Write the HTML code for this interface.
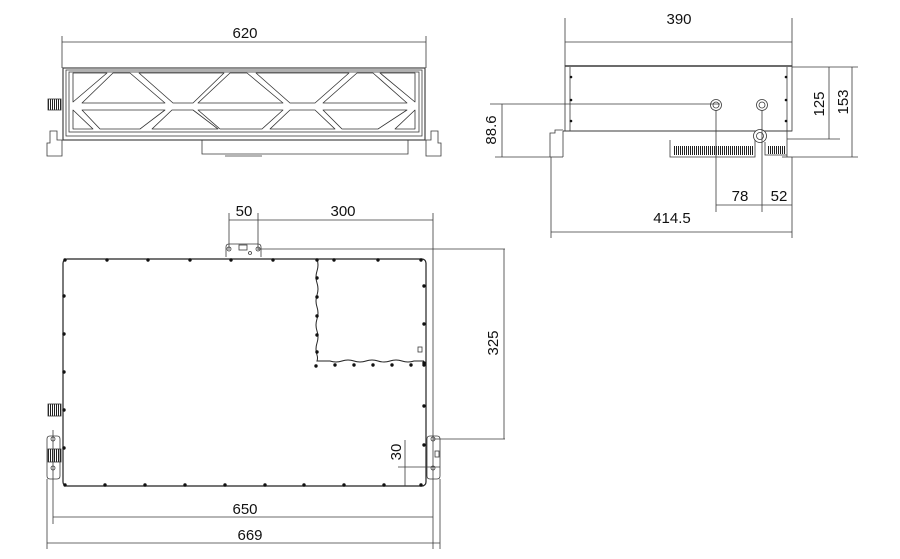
<!DOCTYPE html>
<html><head><meta charset="utf-8"><style>
html,body{margin:0;padding:0;background:#fff;width:900px;height:559px;overflow:hidden}
svg{display:block}
text{font-family:"Liberation Sans",sans-serif;font-size:15px;fill:#111}
</style></head><body>
<svg width="900" height="559" viewBox="0 0 900 559" xmlns="http://www.w3.org/2000/svg">
<defs>
<pattern id="st" width="2" height="4" patternUnits="userSpaceOnUse"><rect width="1" height="4" fill="#222"/></pattern>
</defs>
<g fill="none" stroke="#3a3a3a" stroke-width="0.8">
<!-- ===== TOP LEFT VIEW ===== -->
<line x1="62" y1="36" x2="62" y2="68"/><line x1="426" y1="36" x2="426" y2="68"/>
<line x1="62" y1="42" x2="426" y2="42"/>
<rect x="63" y="68" width="362" height="72" stroke="#333" stroke-width="1.1"/>
<rect x="66" y="70" width="356" height="66"/>
<rect x="69" y="72" width="350" height="60"/>
<line x1="63" y1="140" x2="425" y2="140"/>
<path d="M202 140 V154 H408 V140"/>
<line x1="225" y1="156" x2="262" y2="156"/>
<g stroke-linejoin="round" stroke="#333">
<polygon points="73,73 107,73 73,102"/>
<polygon points="82,103 165,103 130,73 113,73"/>
<polygon points="139,73 224,73 193,103 173,103"/>
<polygon points="198,103 283,103 247,73 230,73"/>
<polygon points="256,73 349,73 315,103 290,103"/>
<polygon points="323,103 407,103 373,73 357,73"/>
<polygon points="380,73 415,73 415,102"/>
<polygon points="73,110 73,129 93,129"/>
<polygon points="82,110 165,110 140,129 100,129"/>
<polygon points="172,110 193,110 218,129 152,129"/>
<polygon points="198,110 283,110 262,129 220,129"/>
<polygon points="290,110 315,110 335,129 270,129"/>
<polygon points="323,110 407,110 378,129 342,129"/>
<polygon points="415,110 415,129 395,129"/>
</g>
<rect x="48" y="99" width="13" height="11" fill="url(#st)" stroke="#333"/>
<path d="M47 156 V143 H50 V131 H57 V140 H62 V156 Z"/>
<path d="M441 156 V143 H438 V131 H431 V140 H426 V156 Z"/>
<!-- ===== TOP RIGHT VIEW ===== -->
<line x1="565" y1="18" x2="565" y2="66"/><line x1="792" y1="18" x2="792" y2="66"/>
<line x1="565" y1="42" x2="792" y2="42"/>
<rect x="565" y="66" width="227" height="65" stroke="#333"/>
<line x1="565" y1="66" x2="792" y2="66" stroke-width="1.6"/>
<line x1="570" y1="67" x2="570" y2="131"/><line x1="787" y1="67" x2="787" y2="157"/>
<line x1="563" y1="131" x2="792" y2="131" stroke-width="1.1"/>
<line x1="563" y1="131" x2="563" y2="157"/>
<path d="M550 157 V133 H555 V130 H563"/>
<line x1="550" y1="157" x2="563" y2="157"/>
<line x1="782" y1="157" x2="792" y2="157"/>
<path d="M670 140 V157 H755 V140"/>
<rect x="673" y="146" width="80" height="9" fill="url(#st)" stroke="none"/>
<path d="M765 142 V155 H787"/>
<rect x="767" y="146" width="18" height="8" fill="url(#st)" stroke="none"/>
<circle cx="716" cy="105" r="5.5"/><circle cx="716" cy="105" r="3"/>
<circle cx="762" cy="105" r="5.5"/><circle cx="762" cy="105" r="3"/>
<circle cx="760" cy="136" r="6.5" stroke="#333" fill="#fff"/><circle cx="760" cy="136" r="3.5"/>
<line x1="490" y1="104" x2="720" y2="104"/>
<line x1="495" y1="157" x2="550" y2="157"/>
<line x1="502" y1="104" x2="502" y2="157"/>
<line x1="792" y1="67" x2="858" y2="67"/>
<line x1="787" y1="139" x2="840" y2="139"/>
<line x1="792" y1="157" x2="858" y2="157"/>
<line x1="829" y1="67" x2="829" y2="139"/>
<line x1="852" y1="67" x2="852" y2="157"/>
<line x1="716" y1="110" x2="716" y2="212"/><line x1="762" y1="110" x2="762" y2="212"/>
<line x1="792" y1="157" x2="792" y2="238"/><line x1="551" y1="157" x2="551" y2="238"/>
<line x1="716" y1="205" x2="792" y2="205"/>
<line x1="551" y1="232" x2="792" y2="232"/>
<!-- ===== BOTTOM VIEW ===== -->
<line x1="229" y1="213" x2="229" y2="250"/><line x1="258" y1="213" x2="258" y2="250"/>
<line x1="433" y1="213" x2="433" y2="549"/>
<line x1="229" y1="220" x2="433" y2="220"/>
<path d="M226 257 V247 Q226 244 229 244 H258 Q261 244 261 247 V257"/>
<circle cx="229" cy="249" r="2"/><circle cx="258" cy="249" r="2"/>
<rect x="239" y="245" width="8" height="5"/><circle cx="250" cy="253" r="1.5"/>
<line x1="258" y1="249" x2="505" y2="249"/>
<line x1="504" y1="249" x2="504" y2="439"/>
<line x1="433" y1="439" x2="505" y2="439"/>
<rect x="63" y="259" width="363" height="227" rx="4" stroke="#222" stroke-width="1.2"/>
<path d="M317 259 q2 6 0 12 q-2 6 0 12 q2 6 0 12 q-2 6 0 12 q2 6 0 12 q-2 6 0 12 q2 6 0 12 q-2 6 0 12 q1 3 0 6 H330 q6 2 12 0 q6 -2 12 0 q6 2 12 0 q6 -2 12 0 q6 2 12 0 q6 -2 12 0 q6 2 12 0 H424" stroke="#222" stroke-width="1"/>
<rect x="418" y="347" width="4" height="5"/>
<path d="M427 476 V439 Q427 436 430 436 H437 Q440 436 440 439 V476 Q440 479 437 479 H430 Q427 479 427 476 Z"/>
<circle cx="433" cy="439" r="2"/><circle cx="433" cy="468" r="2"/><rect x="435" y="451" width="4" height="6"/>
<path d="M47 476 V439 Q47 436 50 436 H57 Q60 436 60 439 V476 Q60 479 57 479 H50 Q47 479 47 476 Z"/>
<circle cx="53" cy="439" r="2"/><circle cx="53" cy="468" r="2"/>
<rect x="48" y="404" width="13" height="12" fill="url(#st)" stroke="#333"/>
<rect x="48" y="449" width="13" height="13" fill="url(#st)" stroke="#333"/>
<line x1="398" y1="467" x2="440" y2="467"/>
<line x1="405" y1="440" x2="405" y2="486"/>
<line x1="53" y1="430" x2="53" y2="524"/>
<line x1="47" y1="479" x2="47" y2="549"/><line x1="440" y1="479" x2="440" y2="549"/>
<line x1="53" y1="517" x2="433" y2="517"/>
<line x1="47" y1="543" x2="440" y2="543"/>
</g>
<g fill="#111">
<circle cx="571" cy="77" r="1.3"/><circle cx="571" cy="100" r="1.3"/><circle cx="571" cy="121" r="1.3"/>
<circle cx="786" cy="77" r="1.3"/><circle cx="786" cy="100" r="1.3"/><circle cx="786" cy="121" r="1.3"/>
<circle cx="65" cy="260" r="1.7"/><circle cx="107" cy="260" r="1.7"/><circle cx="148" cy="260" r="1.7"/><circle cx="190" cy="260" r="1.7"/><circle cx="231" cy="260" r="1.7"/><circle cx="273" cy="260" r="1.7"/><circle cx="317" cy="260" r="1.7"/><circle cx="334" cy="260" r="1.7"/><circle cx="378" cy="260" r="1.7"/><circle cx="421" cy="260" r="1.7"/>
<circle cx="64" cy="296" r="1.7"/><circle cx="64" cy="334" r="1.7"/><circle cx="64" cy="372" r="1.7"/><circle cx="64" cy="410" r="1.7"/><circle cx="64" cy="448" r="1.7"/>
<circle cx="424" cy="286" r="1.7"/><circle cx="424" cy="324" r="1.7"/><circle cx="424" cy="363" r="1.7"/><circle cx="424" cy="406" r="1.7"/><circle cx="424" cy="445" r="1.7"/>
<circle cx="317" cy="278" r="1.7"/><circle cx="317" cy="297" r="1.7"/><circle cx="317" cy="316" r="1.7"/><circle cx="317" cy="335" r="1.7"/><circle cx="317" cy="352" r="1.7"/><circle cx="316" cy="366" r="1.7"/>
<circle cx="335" cy="365" r="1.7"/><circle cx="354" cy="365" r="1.7"/><circle cx="373" cy="365" r="1.7"/><circle cx="392" cy="365" r="1.7"/><circle cx="411" cy="365" r="1.7"/><circle cx="424" cy="365" r="1.7"/>
<circle cx="65" cy="485" r="1.7"/><circle cx="105" cy="485" r="1.7"/><circle cx="145" cy="485" r="1.7"/><circle cx="185" cy="485" r="1.7"/><circle cx="225" cy="485" r="1.7"/><circle cx="265" cy="485" r="1.7"/><circle cx="304" cy="485" r="1.7"/><circle cx="344" cy="485" r="1.7"/><circle cx="384" cy="485" r="1.7"/><circle cx="421" cy="485" r="1.7"/>
</g>
<text x="245" y="38" text-anchor="middle">620</text>
<text x="679" y="24" text-anchor="middle">390</text>
<text x="740" y="201" text-anchor="middle">78</text>
<text x="779" y="201" text-anchor="middle">52</text>
<text x="672" y="223" text-anchor="middle">414.5</text>
<text transform="translate(496,130) rotate(-90)" text-anchor="middle">88.6</text>
<text transform="translate(824,104) rotate(-90)" text-anchor="middle">125</text>
<text transform="translate(848,102) rotate(-90)" text-anchor="middle">153</text>
<text x="244" y="216" text-anchor="middle">50</text>
<text x="343" y="216" text-anchor="middle">300</text>
<text transform="translate(498,343) rotate(-90)" text-anchor="middle">325</text>
<text transform="translate(401,452) rotate(-90)" text-anchor="middle">30</text>
<text x="245" y="514" text-anchor="middle">650</text>
<text x="250" y="540" text-anchor="middle">669</text>
</svg>
</body></html>
